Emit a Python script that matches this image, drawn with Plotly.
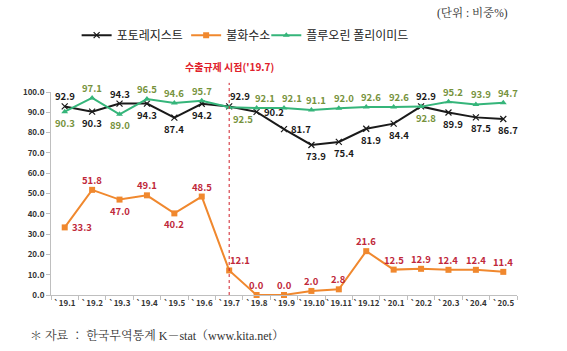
import plotly.graph_objects as go

categories = ["`19.1", "`19.2", "`19.3", "`19.4", "`19.5", "`19.6", "`19.7", "`19.8", "`19.9",
              "`19.10", "`19.11", "`19.12", "`20.1", "`20.2", "`20.3", "`20.4", "`20.5"]
photoresist = [92.9, 90.3, 94.3, 94.3, 87.4, 94.2, 92.9, 90.2, 81.7, 73.9, 75.4, 81.9, 84.4, 92.9, 89.9, 87.5, 86.7]
hydrogen_fluoride = [33.3, 51.8, 47.0, 49.1, 40.2, 48.5, 12.1, 0.0, 0.0, 2.0, 2.8, 21.6, 12.5, 12.9, 12.4, 12.4, 11.4]
polyimide = [90.3, 97.1, 89.0, 96.5, 94.6, 95.7, 92.5, 92.1, 92.1, 91.1, 92.0, 92.6, 92.6, 92.8, 95.2, 93.9, 94.7]
series_names = ["포토레지스트", "불화수소", "플루오린 폴리이미드"]
y_ticks = [0, 10, 20, 30, 40, 50, 60, 70, 80, 90, 100]
event_index = 6
event_label = "수출규제 시점('19.7)"
unit_label = "(단위 : 비중%)"
source_label = "＊ 자료 ： 한국무역통계 K－stat（www.kita.net）"

FONT = "Noto Sans CJK KR"
SERIF = "Liberation Serif, Noto Serif CJK KR, Noto Sans CJK KR"

# label placement codes (style only)
pos_black = ["a", "b", "a", "b", "b", "b", "ar", "r", "r", "b", "b", "b", "b", "a", "b", "b", "b"]
pos_orange = ["r", "a", "b", "a", "b", "a", "ar", "a", "a", "a", "a", "a", "a", "a", "a", "a", "a"]
pos_green = ["b", "a", "b", "a", "a", "a", "br", "as", "as", "a", "a", "a", "a", "b", "a", "a", "a"]
OFFS = {"a": (0, 10), "b": (0, -11), "r": (17, 0), "ar": (11, 10), "br": (14, -12), "as": (8, 10)}

fig = go.Figure()

series = [
    (series_names[0], photoresist, "#1a1a1a", "#1a1a1a", "x-thin", pos_black, 5, "legend", 0.055),
    (series_names[1], hydrogen_fluoride, "#f0882e", "#c0283a", "square", pos_orange, 0, "legend2", 0.29),
    (series_names[2], polyimide, "#35b57a", "#76923c", "triangle-up", pos_green, 5, "legend3", 0.462),
]

legend_layout = {}
for name, vals, lc, tc, sym, pos, extra, leg, lx in series:
    if sym == "x-thin":
        marker = dict(symbol=sym, size=6, color=lc, line=dict(color=lc, width=1.2))
    else:
        marker = dict(symbol=sym, size=6, color=lc)
    fig.add_trace(go.Scatter(
        x=categories, y=vals, name=name, mode="lines+markers", legend=leg,
        line=dict(color=lc, width=2), marker=marker, cliponaxis=False,
    ))
    legend_layout[leg] = dict(orientation="h", x=lx, xanchor="left", y=1.28, yanchor="middle",
                              font=dict(family=FONT, size=12, color="#222222"),
                              itemwidth=30, bgcolor="rgba(0,0,0,0)")
    for i, (c, v) in enumerate(zip(categories, vals)):
        dx, dy = OFFS[pos[i]]
        if i >= 9 and pos[i] in ("a", "b"):
            dx += extra
        fig.add_annotation(x=c, y=v, text=f"{v:.1f}", showarrow=False,
                           xshift=dx, yshift=dy,
                           font=dict(family=FONT, size=9.5, color=tc, weight="bold"))

fig.add_shape(type="line", xref="x", yref="paper", x0=event_index, x1=event_index,
              y0=0, y1=1.045, line=dict(color="#d0202a", width=1, dash="dot"))
fig.add_annotation(xref="x", yref="paper", x=event_index, y=1.17, text=event_label,
                   showarrow=False, font=dict(family=FONT, size=10, color="#e0202a", weight="bold"))
fig.add_annotation(xref="paper", yref="paper", x=0.824, y=1.39, xanchor="left", yanchor="middle",
                   text=unit_label, showarrow=False,
                   font=dict(family=SERIF, size=11.5, color="#333333"))
fig.add_annotation(xref="paper", yref="paper", x=-0.05, y=-0.2, xanchor="left", yanchor="middle",
                   text=source_label, showarrow=False,
                   font=dict(family=SERIF, size=12, color="#333333"))

fig.update_layout(
    width=567, height=351,
    margin=dict(l=51, r=50, t=92, b=56),
    paper_bgcolor="white", plot_bgcolor="white",
    showlegend=True,
    font=dict(family=FONT),
    **legend_layout,
)
fig.update_xaxes(
    type="category", range=[-0.5, len(categories) - 0.5],
    showline=True, linecolor="#bfbfbf", linewidth=1,
    ticks="outside", tickson="boundaries", ticklen=4, tickcolor="#bfbfbf",
    showgrid=False, zeroline=False, tickangle=0,
    tickfont=dict(family=FONT, size=8, color="#333333", weight="bold"),
)
fig.update_yaxes(
    range=[0, 100], tickvals=y_ticks, ticktext=[f"{v:.1f}" for v in y_ticks],
    showline=True, linecolor="#bfbfbf", linewidth=1,
    ticks="outside", ticklen=4, tickcolor="#bfbfbf",
    showgrid=False, zeroline=False,
    tickfont=dict(family=FONT, size=8, color="#333333", weight="bold"),
)

fig.write_html("out.html")
